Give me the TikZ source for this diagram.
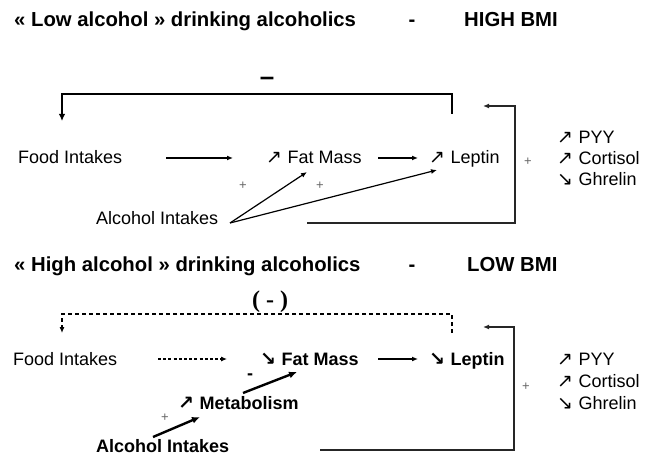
\documentclass[tikz,border=0pt]{standalone}
\usepackage{fontspec}
\setmainfont{Liberation Sans}
\newfontfamily\arrowfont{DejaVu Sans}
\newfontfamily\serifbold{Liberation Serif}
\usetikzlibrary{arrows.meta,calc}
\newcommand\uparr{{\arrowfont\fontsize{19bp}{19bp}\selectfont ↗}\kern0.5bp}
\newcommand\dnarr{{\arrowfont\fontsize{19bp}{19bp}\selectfont ↘}\kern0.5bp}
\tikzset{
  txt/.style={inner sep=0pt, anchor=base west, text height=13bp, text depth=0pt, font=\fontsize{18bp}{21bp}\selectfont},
  btxt/.style={txt, font=\fontsize{18bp}{21bp}\selectfont\bfseries},
  ttl/.style={inner sep=0pt, anchor=base west, font=\fontsize{20.3bp}{24bp}\selectfont\bfseries},
  pls/.style={inner sep=0pt, text=black!60, font=\fontsize{13bp}{13bp}\selectfont},
  conn/.style={line width=1.2bp, -{Latex[length=6bp,width=5bp]}},
  fbline/.style={line width=1.2bp, draw=black!85, -{Latex[length=6bp,width=5bp]}},
  thickbr/.style={line width=2.8bp, -{Latex[length=7bp,width=6.5bp]}},
  thickarr/.style={line width=2.4bp, -{Latex[length=8bp,width=7bp]}},
  dashbr/.style={line width=1.1bp, dash pattern=on 4bp off 3bp, -{Latex[length=6bp,width=5bp]}},
  dasharr/.style={line width=1.1bp, dash pattern=on 3bp off 2.2bp, -{Latex[length=6bp,width=5bp]}}
}
\begin{document}
\begin{tikzpicture}[x=1bp,y=-1bp]
\useasboundingbox (0,0) rectangle (648,457);
% ---------- top panel ----------
\node[ttl] (t1) at (14,27) {« Low alcohol » drinking alcoholics};
\node[ttl, anchor=base] (t1d) at (412,27) {-};
\node[ttl] (t1b) at (464,27) {HIGH BMI};
\node[inner sep=0pt, font=\fontsize{26bp}{26bp}\selectfont\bfseries] (minus1) at (267,81) {–};

\node[txt] (food1) at (18,164) {Food Intakes};
\node[txt] (fat1) at (266,164) {\uparr{} Fat Mass};
\node[txt] (lep1) at (429,164) {\uparr{} Leptin};
\node[txt] (alc1) at (96,224.5) {Alcohol Intakes};
\node[txt] (pyy1) at (557,143.5) {\uparr{} PYY};
\node[txt] (cort1) at (557,164.5) {\uparr{} Cortisol};
\node[txt] (ghr1) at (557,185.5) {\dnarr{} Ghrelin};
\node[pls] (p1) at (243,186) {+};
\node[pls] (p2) at (320,186) {+};
\node[pls] (p3) at (528,162) {+};

\draw[conn] ($(food1.base west)+(148,-6)$) -- ($(fat1.base west)+(-33,-6)$);
\draw[conn] ($(fat1.base west)+(112,-6)$) -- ($(lep1.base west)+(-11,-6)$);
\draw[conn] ($(alc1.base west)+(134,-1.5)$) -- ($(fat1.base west)+(41,8)$);
\draw[conn] ($(alc1.base west)+(134,-1.5)$) -- ($(lep1.base west)+(8,6)$);
\draw[thickbr] ($(lep1.base west)+(23,-50)$) -- ++(0,-20) -| ($(food1.base west)+(44,-43)$);
\draw[fbline] ($(alc1.base west)+(211,-1.5)$) -- ++(208,0) |- ($(lep1.base west)+(54,-58)$);

% ---------- bottom panel ----------
\node[ttl] (t2) at (14,271.5) {« High alcohol » drinking alcoholics};
\node[ttl, anchor=base] (t2d) at (412,271.5) {-};
\node[ttl] (t2b) at (467,271.5) {LOW BMI};
\node[inner sep=0pt, font=\serifbold\fontsize{24bp}{24bp}\selectfont\bfseries] (paren) at (270,302) {( - )};

\node[txt] (food2) at (13,365.5) {Food Intakes};
\node[btxt] (fat2) at (260,365.5) {\dnarr{} Fat Mass};
\node[btxt] (lep2) at (429,365.5) {\dnarr{} Leptin};
\node[btxt] (met2) at (178,409.5) {\uparr{} Metabolism};
\node[btxt] (alc2) at (96,452.5) {Alcohol Intakes};
\node[txt] (pyy2) at (557,365.5) {\uparr{} PYY};
\node[txt] (cort2) at (557,387.5) {\uparr{} Cortisol};
\node[txt] (ghr2) at (557,409.5) {\dnarr{} Ghrelin};
\node[inner sep=0pt, font=\fontsize{18bp}{18bp}\selectfont\bfseries] (minus2) at (250,377) {-};
\node[pls] (p4) at (165,418) {+};
\node[pls] (p5) at (526,387) {+};

\draw[dasharr] ($(food2.base west)+(145,-6.5)$) -- ($(fat2.base west)+(-33,-6.5)$);
\draw[conn] ($(fat2.base west)+(118,-6.5)$) -- ($(lep2.base west)+(-11,-6.5)$);
\draw[thickarr] ($(met2.base west)+(65,-16.5)$) -- ($(fat2.base west)+(37,6.5)$);
\draw[thickarr] ($(alc2.base west)+(57,-15.5)$) -- ($(met2.base west)+(22,7.5)$);
\draw[dashbr] ($(lep2.base west)+(23,-32.5)$) -- ++(0,-19) -| ($(food2.base west)+(49,-32.5)$);
\draw[fbline] ($(alc2.base west)+(224,-2.5)$) -- ++(194,0) |- ($(lep2.base west)+(54,-38.5)$);
\end{tikzpicture}
\end{document}
